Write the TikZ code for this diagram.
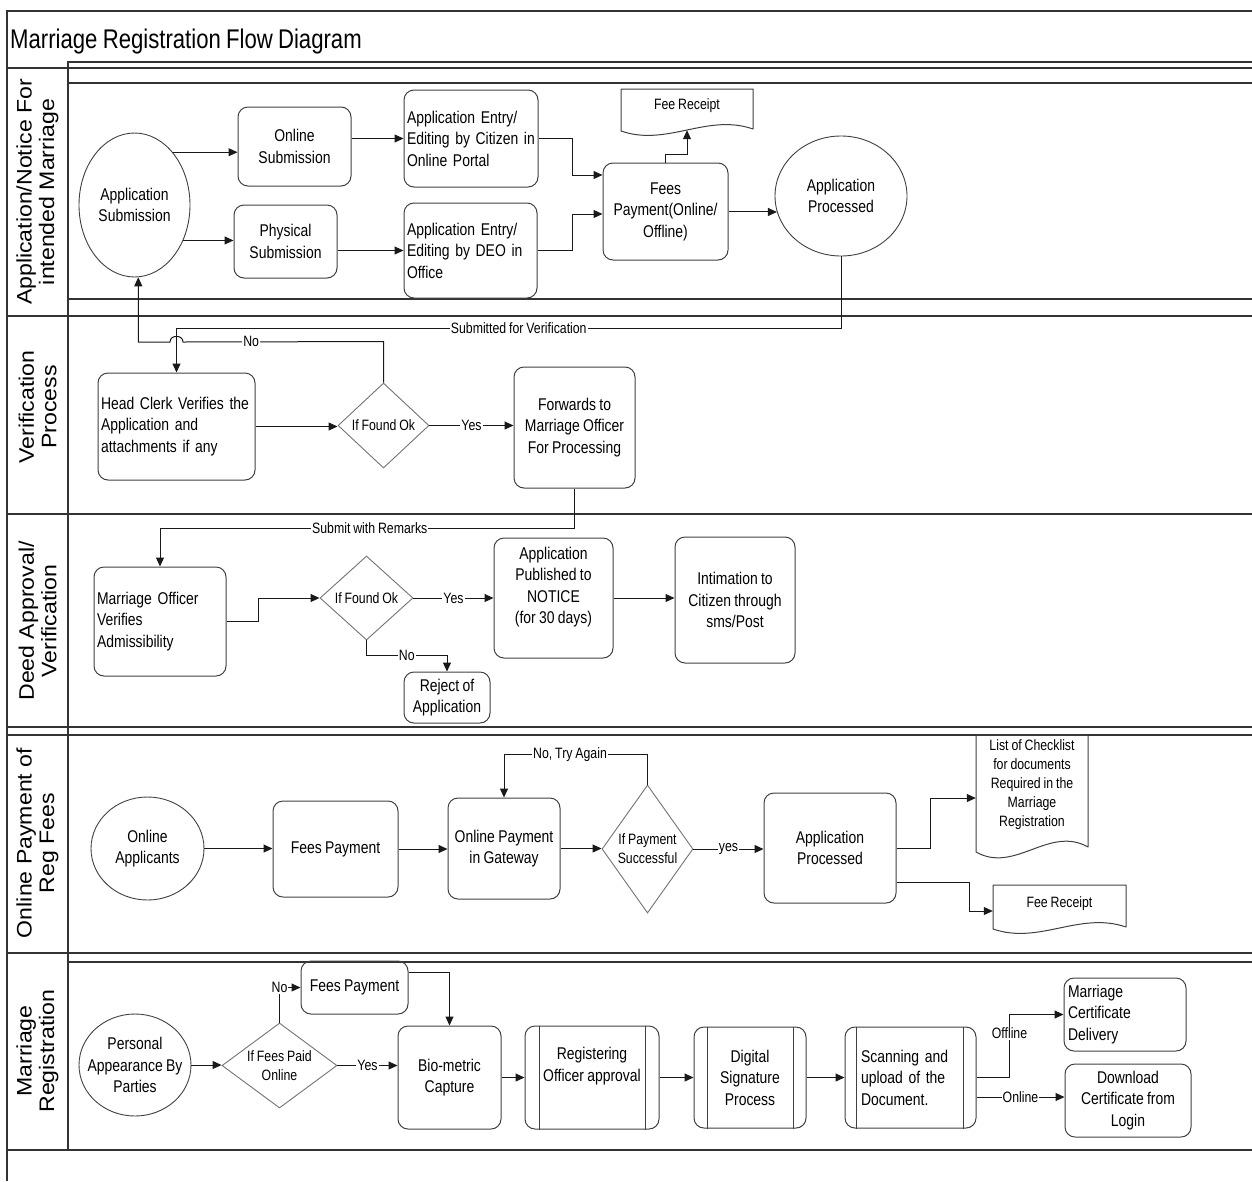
\documentclass[tikz,border=0pt]{standalone}
\usepackage{fontspec}
\setmainfont{Liberation Sans}
\newfontfamily\nfont[FakeStretch=0.82,WordSpace=0.85]{Liberation Sans}
\newfontfamily\lfont[FakeStretch=1.1]{Liberation Sans}
\usetikzlibrary{shapes.geometric,arrows.meta,calc}

\tikzset{
  txt/.style={font=\nfont\fontsize{17}{21.5}\selectfont, text=black},
  small/.style={font=\nfont\fontsize{15}{19}\selectfont, text=black},
  rbox/.style={txt, draw=black!75, line width=1pt, rounded corners=10pt, inner sep=3pt, align=center},
  lbox/.style={rbox, align=left},
  oval/.style={txt, ellipse, draw=black!75, line width=0.9pt, inner sep=0pt, align=center},
  decision/.style={small, diamond, draw=black!55, line width=0.9pt, inner sep=0pt, align=center},
  docbox/.style={small, inner sep=0pt, align=center},
  docline/.style={draw=black!75, line width=1pt, line join=round},
  sub/.style={draw=black!75, line width=1pt},
  lbl/.style={small, fill=white, inner sep=1pt},
  arr/.style={draw=black!90, line width=1pt, -{Triangle[length=9pt,width=8pt]}},
  lane/.style={draw=black!80, line width=1.5pt},
  lanetitle/.style={font=\lfont\fontsize{21}{22.5}\selectfont, rotate=90, align=center, text=black},
}

\begin{document}
\begin{tikzpicture}[x=1pt, y=-1pt]
\useasboundingbox (0,0) rectangle (1252,1181);

% ---- pool frame and lane separators
\draw[lane] (7,1181) -- (7,11) -- (1252,11);
\draw[lane] (68,1150) -- (68,62) -- (1252,62);
\draw[lane] (7,68) -- (1252,68);
\draw[lane] (68,83) -- (1252,83);
\draw[lane] (68,299) -- (1252,299);
\draw[lane] (7,316) -- (1252,316);
\draw[lane] (7,514) -- (1252,514);
\draw[lane] (7,727) -- (1252,727);
\draw[lane] (7,735) -- (1252,735);
\draw[lane] (7,953) -- (1252,953);
\draw[lane] (68,962) -- (1252,962);
\draw[lane] (7,1150) -- (1252,1150);

\node[anchor=base west, font=\nfont\fontsize{27}{30}\selectfont, inner sep=0pt, text=black] (title) at (10,48.5) {Marriage Registration Flow Diagram};

\node[lanetitle] (lane1) at (37.5,192) {Application/Notice For\\intended Marriage};
\node[lanetitle] (lane2) at (37.5,407) {Verification\\Process};
\node[lanetitle] (lane3) at (37.5,621) {Deed Approval/\\Verification};
\node[lanetitle] (lane4) at (37.5,843) {Online Payment of\\Reg Fees};
\node[lanetitle] (lane5) at (37.5,1051) {Marriage\\Registration};

% ---- lane 1: application / notice
\node[oval, minimum width=111pt, minimum height=144pt] (appsub) at (134.5,205) {Application\\Submission};
\node[rbox, minimum width=113pt, minimum height=79pt] (onsub) at (294.5,146.5) {Online\\Submission};
\node[rbox, minimum width=103pt, minimum height=73pt] (physub) at (285.5,241.5) {Physical\\Submission};
\node[lbox, text width=128pt, minimum height=97pt] (citizen) at (471,138.5) {Application Entry/\\Editing by Citizen in\\Online Portal};
\node[lbox, text width=127pt, minimum height=95pt] (deo) at (470.5,250.5) {Application Entry/\\Editing by DEO in\\Office};
\node[rbox, minimum width=125pt, minimum height=97pt] (feespay1) at (665.5,211.5) {Fees\\Payment(Online/\\Offline)};
\node[docbox, minimum width=132pt, minimum height=48pt] (rcpt1) at (687,106) {Fee Receipt};
\draw[docline] (753,129) -- (753,89) -- (621,89) -- (621,131) .. controls (667,147) and (707,113) .. (753,129) -- cycle;
\node[oval, minimum width=132pt, minimum height=120pt] (appproc1) at (841,196) {Application\\Processed};

% ---- lane 2: verification
\node[lbox, text width=151pt, minimum height=107pt] (headclerk) at (176.5,426.5) {Head Clerk Verifies the\\Application and\\attachments if any};
\node[decision, minimum width=91pt, minimum height=85pt] (dia1) at (383.5,425.5) {If Found Ok};
\node[rbox, minimum width=121pt, minimum height=121pt] (fwd) at (574.5,427.5) {Forwards to\\Marriage Officer\\For Processing};

% ---- lane 3: deed approval
\node[lbox, text width=126pt, minimum height=109pt] (mo) at (160,621.5) {Marriage Officer\\Verifies\\Admissibility};
\node[decision, minimum width=93pt, minimum height=84pt] (dia3) at (366.5,598) {If Found Ok};
\node[rbox, minimum width=119pt, minimum height=120pt, text depth=25.6pt] (pub) at (553.5,598) {Application\\Published to\\NOTICE\\(for 30 days)};
\node[rbox, minimum width=120pt, minimum height=126pt] (intim) at (735,600) {Intimation to\\Citizen through\\sms/Post};
\node[rbox, minimum width=86pt, minimum height=51pt] (rej) at (447,697.5) {Reject of\\Application};

% ---- lane 4: online payment
\node[oval, minimum width=113pt, minimum height=103pt] (onapp) at (147.5,848.5) {Online\\Applicants};
\node[rbox, minimum width=125pt, minimum height=96pt] (fees4) at (335.5,849) {Fees Payment};
\node[rbox, minimum width=112pt, minimum height=101pt] (gate) at (504,848.5) {Online Payment\\in Gateway};
\node[decision, minimum width=91pt, minimum height=128pt, aspect=0.7] (dia4) at (647.5,849) {If Payment\\Successful};
\node[rbox, minimum width=132pt, minimum height=110pt] (proc4) at (830,848) {Application\\Processed};
\node[docbox, minimum width=112pt, minimum height=100pt] (chk) at (1032,785) {List of Checklist\\for documents\\Required in the\\Marriage\\Registration};
\draw[docline] (1088,847) -- (1088,735) -- (976,735) -- (976,852) .. controls (1015,874) and (1049,825) .. (1088,847) -- cycle;
\node[docbox, minimum width=133pt, minimum height=38pt] (rcpt4) at (1059.5,904) {Fee Receipt};
\draw[docline] (1126,927) -- (1126,885) -- (993,885) -- (993,929) .. controls (1039.5,945) and (1079.5,911) .. (1126,927) -- cycle;

% ---- lane 5: marriage registration
\node[oval, minimum width=112pt, minimum height=102pt, inner xsep=-14pt] (pers) at (135,1065) {Personal\\Appearance By\\Parties};
\node[decision, minimum width=115pt, minimum height=85pt, aspect=1.35] (dia5) at (279.5,1065.5) {If Fees Paid\\Online};
\node[rbox, minimum width=107pt, minimum height=53pt] (fp5) at (354.5,987.5) {Fees Payment};
\node[rbox, minimum width=103pt, minimum height=103pt] (bio) at (449.5,1077.5) {Bio-metric\\Capture};
\node[rbox, minimum width=134pt, minimum height=103pt, text depth=26.6pt] (reg) at (592,1077.5) {Registering\\Officer approval};
\node[rbox, minimum width=112pt, minimum height=101pt] (dig) at (750,1077.5) {Digital\\Signature\\Process};
\node[lbox, text width=99pt, inner xsep=16pt, minimum height=101pt] (scan) at (910.5,1077.5) {Scanning and\\upload of the\\Document.};
\node[lbox, text width=114pt, inner xsep=4pt, minimum height=73pt] (cert) at (1125,1014.5) {Marriage\\Certificate\\Delivery};
\node[rbox, minimum width=126pt, minimum height=73pt] (dl) at (1128,1100.5) {Download\\Certificate from\\Login};

% predefined-process side bars
\draw[sub] ([xshift=15pt]reg.north west) -- ([xshift=15pt]reg.south west);
\draw[sub] ([xshift=-14pt]reg.north east) -- ([xshift=-14pt]reg.south east);
\draw[sub] ([xshift=14pt]dig.north west) -- ([xshift=14pt]dig.south west);
\draw[sub] ([xshift=-13pt]dig.north east) -- ([xshift=-13pt]dig.south east);
\draw[sub] ([xshift=12pt]scan.north west) -- ([xshift=12pt]scan.south west);
\draw[sub] ([xshift=-13pt]scan.north east) -- ([xshift=-13pt]scan.south east);

% ---- connectors, lane 1
\draw[arr] (appsub.54) -- (appsub.54 -| onsub.west);
\draw[arr] (appsub.-36) -- (appsub.-36 -| physub.west);
\draw[arr] (onsub.east |- citizen.west) -- (citizen.west);
\draw[arr] (physub.east |- deo.west) -- (deo.west);
\draw[arr] (citizen.east) -- ++(34,0) |- ([yshift=36.5pt]feespay1.west);
\draw[arr] (deo.east) -- ++(35,0) |- ([yshift=-2.5pt]feespay1.west);
\draw[arr] (feespay1.north) -- ++(0,-8) -| (rcpt1.south);
\draw[arr] (feespay1.east |- appproc1.194) -- (appproc1.194);
\draw[arr] (appproc1.south) -- ++(0,72) -| node[lbl, pos=0.2425]{Submitted for Verification} (headclerk.north);

% ---- connectors, lane 2
\draw[arr] (dia1.north) -- ++(0,-41) -- node[lbl, pos=0.66]{No} (183,342)
  .. controls (183,334.5) and (170,334.5) .. (170,342) -| (appsub.-87);
\draw[arr] (headclerk.east) -- (headclerk.east -| dia1.west);
\draw[arr] (dia1.east) -- node[lbl]{Yes} (dia1.east -| fwd.west);
\draw[arr] (fwd.south) -- ++(0,40) -| node[lbl, pos=0.247]{Submit with Remarks} (mo.north);

% ---- connectors, lane 3
\draw[arr] (mo.east) -- ++(32,0) |- (dia3.west);
\draw[arr] (dia3.east) -- node[lbl]{Yes} (pub.west);
\draw[arr] (pub.east) -- (pub.east -| intim.west);
\draw[arr] (dia3.south) -- ++(0,15) -| node[lbl, pos=0.25]{No} (rej.north);

% ---- connectors, lane 4
\draw[arr] (onapp.east) -- (onapp.east -| fees4.west);
\draw[arr] (fees4.east) -- (fees4.east -| gate.west);
\draw[arr] (gate.east) -- (gate.east -| dia4.west);
\draw[arr] (dia4.north) -- ++(0,-30) -| node[lbl, pos=0.27]{No, Try Again} (gate.north);
\draw[arr] (dia4.east) -- node[lbl]{yes} (dia4.east -| proc4.west);
\draw[arr] (proc4.east) -- ++(34,0) |- ([yshift=-13pt]chk.west);
\draw[arr] ([yshift=-34pt]proc4.east) -- ++(73,0) |- ([yshift=-7pt]rcpt4.west);

% ---- connectors, lane 5
\draw[arr] (pers.east) -- (pers.east -| dia5.west);
\draw[arr] (dia5.east) -- node[lbl]{Yes} (dia5.east -| bio.west);
\draw[arr] (dia5.north) |- node[lbl, pos=0.5]{No} (fp5.west);
\draw[arr] ([yshift=15.5pt]fp5.east) -| (bio.north);
\draw[arr] (bio.east) -- (reg.west);
\draw[arr] (reg.east) -- (dig.west);
\draw[arr] (dig.east) -- (scan.west);
\draw[arr] (scan.east) -- ++(33,0) |- node[lbl, pos=0.35]{Offline} (cert.west);
\draw[arr] ([yshift=-19.5pt]scan.east) -- node[lbl]{Online} ([yshift=-19.5pt]scan.east -| dl.west);
\end{tikzpicture}
\end{document}
